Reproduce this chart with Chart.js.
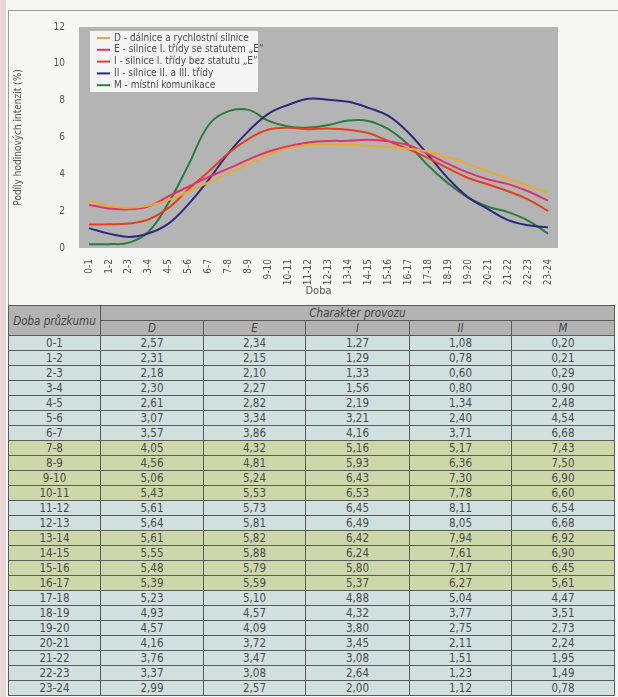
<!DOCTYPE html>
<html>
<head>
<meta charset="utf-8">
<script src="https://cdn.jsdelivr.net/npm/chart.js@4/dist/chart.umd.min.js"></script>
<style>
  body { margin: 0; width: 618px; height: 697px; background: #f7f7f5; position: relative; overflow: hidden;
         font-family: 'Liberation Sans Narrow', 'DejaVu Sans Condensed', 'Liberation Sans', sans-serif; }
  .strip { position: absolute; left: 0; top: 0; width: 6px; height: 697px; background: #ead9d8; }
  .box { position: absolute; left: 8px; top: 10px; width: 610px; height: 296px; border-top: 1px solid #9a9a9a;
         border-left: 1px solid #9a9a9a; background: #f6f6f4; }
  #wrap { position: absolute; left: 8px; top: 10px; width: 610px; height: 292px; }
  table { position: absolute; left: 8px; top: 305px; border-collapse: collapse; table-layout: fixed; color: #4a4a4a; font-size: 11.5px; }
  td, th { text-align: center; padding: 0; border: 1px solid #5a5a5a; height: 14px; line-height: 14px; font-weight: normal; }
  th { background: #b3b3b3; font-style: italic; color: #444; }
  tr.b td { background: #cfe0df; }
  tr.g td { background: #cdd7a9; }
</style>
</head>
<body>
<div class="strip"></div>
<div class="box"></div>
<div id="wrap"><canvas id="c"></canvas></div>
<table id="t">
  <colgroup><col style="width:92px"><col style="width:103px"><col style="width:102px"><col style="width:104px"><col style="width:102px"><col style="width:103px"></colgroup>
  <thead>
    <tr><th rowspan="2" style="height:27px">Doba průzkumu</th><th colspan="5">Charakter provozu</th></tr>
    <tr><th>D</th><th>E</th><th>I</th><th>II</th><th>M</th></tr>
  </thead>
  <tbody id="tb"></tbody>
</table>
<script>
const periods = ['0-1','1-2','2-3','3-4','4-5','5-6','6-7','7-8','8-9','9-10','10-11','11-12',
  '12-13','13-14','14-15','15-16','16-17','17-18','18-19','19-20','20-21','21-22','22-23','23-24'];

const valuesD  = [2.57,2.31,2.18,2.30,2.61,3.07,3.57,4.05,4.56,5.06,5.43,5.61,5.64,5.61,5.55,5.48,5.39,5.23,4.93,4.57,4.16,3.76,3.37,2.99];
const valuesE  = [2.34,2.15,2.10,2.27,2.82,3.34,3.86,4.32,4.81,5.24,5.53,5.73,5.81,5.82,5.88,5.79,5.59,5.10,4.57,4.09,3.72,3.47,3.08,2.57];
const valuesI  = [1.27,1.29,1.33,1.56,2.19,3.21,4.16,5.16,5.93,6.43,6.53,6.45,6.49,6.42,6.24,5.80,5.37,4.88,4.32,3.80,3.45,3.08,2.64,2.00];
const valuesII = [1.08,0.78,0.60,0.80,1.34,2.40,3.71,5.17,6.36,7.30,7.78,8.11,8.05,7.94,7.61,7.17,6.27,5.04,3.77,2.75,2.11,1.51,1.23,1.12];
const valuesM  = [0.20,0.21,0.29,0.90,2.48,4.54,6.68,7.43,7.50,6.90,6.60,6.54,6.68,6.92,6.90,6.45,5.61,4.47,3.51,2.73,2.24,1.95,1.49,0.78];

const seriesLabels = ['D - dálnice a rychlostní silnice', 'E - silnice I. třídy se statutem „E“',
  'I - silnice I. třídy bez statutu „E“', 'II - silnice II. a III. třídy', 'M - místní komunikace'];
const seriesColors = ['#e9a935', '#e0336b', '#e0401f', '#2b2a7e', '#2b7b3c'];
const seriesValues = [valuesD, valuesE, valuesI, valuesII, valuesM];

// row shading of the table: b = blue-grey, g = green
const rowShade = ['b','b','b','b','b','b','b','g','g','g','g','b','b','g','g','g','g','b','b','b','b','b','b','b'];

const FONT = "'Liberation Sans Narrow', 'DejaVu Sans Condensed', 'Liberation Sans', sans-serif";
const fmt = v => v.toFixed(2).replace('.', ',');

// table
const tb = document.getElementById('tb');
periods.forEach((p, i) => {
  const tr = document.createElement('tr');
  tr.className = rowShade[i];
  tr.innerHTML = `<td>${p}</td>` + seriesValues.map(s => `<td>${fmt(s[i])}</td>`).join('');
  tb.appendChild(tr);
});

const plotBg = {
  id: 'plotBg',
  beforeDraw(chart) {
    const { ctx, chartArea: a } = chart;
    ctx.save();
    ctx.fillStyle = '#b4b4b4';
    ctx.fillRect(a.left, a.top, a.right - a.left, a.bottom - a.top);
    ctx.restore();
  }
};

const boxLegend = {
  id: 'boxLegend',
  afterDraw(chart) {
    const { ctx, chartArea: a } = chart;
    const x = a.left + 11, y = a.top + 4;
    ctx.save();
    ctx.fillStyle = '#f4f4f4';
    ctx.fillRect(x, y, 168, 61);
    ctx.font = '10px ' + FONT;
    ctx.textBaseline = 'middle';
    chart.data.datasets.forEach((ds, i) => {
      const ly = y + 7 + i * 11.8;
      ctx.strokeStyle = ds.borderColor;
      ctx.lineWidth = 2;
      ctx.beginPath();
      ctx.moveTo(x + 7, ly);
      ctx.lineTo(x + 20, ly);
      ctx.stroke();
      ctx.fillStyle = '#4a4a4a';
      ctx.fillText(ds.label, x + 24, ly);
    });
    ctx.restore();
  }
};

new Chart(document.getElementById('c'), {
  type: 'line',
  data: {
    labels: periods,
    datasets: seriesValues.map((vals, i) => ({
      label: seriesLabels[i],
      data: vals,
      borderColor: seriesColors[i],
      backgroundColor: seriesColors[i],
      borderWidth: 2,
      pointRadius: 0,
      tension: 0.4,
      fill: false
    }))
  },
  options: {
    responsive: true, maintainAspectRatio: false,
    animation: false,
    layout: { padding: { left: 0, right: 60, top: 17, bottom: 0 } },
    plugins: { legend: { display: false }, tooltip: { enabled: false } },
    scales: {
      x: {
        offset: true,
        grid: { display: false },
        border: { display: false },
        ticks: { color: '#555', font: { family: FONT, size: 10 }, minRotation: 90, maxRotation: 90, autoSkip: false, padding: 3 },
        title: { display: true, text: 'Doba', color: '#555', font: { family: FONT, size: 11 }, padding: { top: 4 } },
        afterFit: s => { s.height = 54; }
      },
      y: {
        min: 0, max: 12,
        grid: { display: false },
        border: { display: false },
        ticks: { stepSize: 2, color: '#555', font: { family: FONT, size: 10 }, padding: 6 },
        title: { display: true, text: 'Podíly hodinových intenzit (%)', color: '#555', font: { family: FONT, size: 10 } },
        afterFit: s => { s.width = 71; }
      }
    }
  },
  plugins: [plotBg, boxLegend]
});
</script>
</body>
</html>
